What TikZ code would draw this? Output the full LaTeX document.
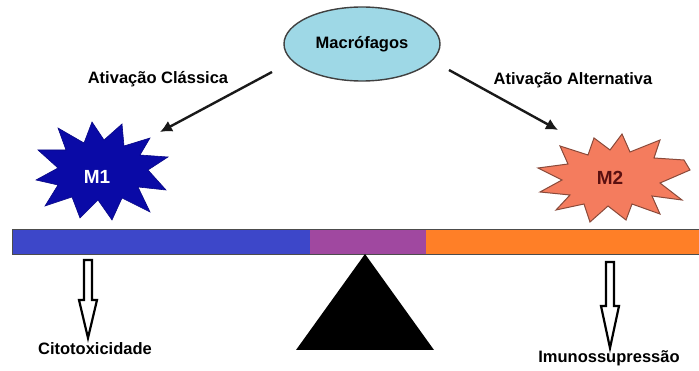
\documentclass[tikz,border=0pt]{standalone}
\usepackage{fontspec}
\setmainfont{Liberation Sans}
\usetikzlibrary{shapes.geometric,arrows.meta}
\definecolor{macfill}{HTML}{9ED8E6}
\definecolor{mone}{HTML}{0A0AA6}
\definecolor{mtwo}{HTML}{F47C5E}
\definecolor{mtwoline}{HTML}{8A4A3A}
\definecolor{barblue}{HTML}{3D47C9}
\definecolor{barpurple}{HTML}{A048A0}
\definecolor{barorange}{HTML}{FF7F27}
\definecolor{mtwotext}{HTML}{5A1010}
\tikzset{
  lbl/.style={font=\fontsize{16.5}{19}\selectfont\bfseries, inner sep=0pt},
  mlbl/.style={font=\fontsize{19}{22}\selectfont\bfseries, inner sep=0pt},
  actarrow/.style={draw=black!90, line width=2.4pt, -{Latex[length=12pt,width=12pt]}},
  hollowarrow/.style={draw=black, line width=2.2pt, fill=white, line join=miter},
}
\begin{document}
\begin{tikzpicture}[x=1pt,y=-1pt]
\useasboundingbox (0,0) rectangle (699,371);

% macrophage ellipse
\node[ellipse, draw=black!75, line width=1.4pt, fill=macfill,
      minimum width=156pt, minimum height=74pt, lbl] (mac) at (362,44) {Macrófagos};

% activation labels
\node[lbl] (lcl) at (158,79) {Ativação Clássica};
\node[lbl] (lalt) at (573,80) {Ativação Alternativa};

% M1 star (irregular burst)
\draw[fill=mone, draw=mone!80!black, line width=0.6pt]
  plot[smooth cycle, tension=0] coordinates {
   (168,157) (148,170) (166,190) (138,187) (150,212) (122,198) (112,220)
   (98,200) (80,218) (72,197) (45,206) (58,185) (36,180) (58,168)
   (38,150) (66,150) (58,128) (84,143) (92,122) (104,140) (122,124)
   (124,146) (150,138) (140,155)};
\node[mlbl, text=white] (m1) at (97,177) {M1};

% M2 star (irregular burst)
\draw[fill=mtwo, draw=mtwoline, line width=1pt]
  plot[smooth cycle, tension=0] coordinates {
   (690,170) (660,183) (682,200) (652,196) (660,214) (632,204) (626,220)
   (608,206) (590,222) (584,204) (556,210) (570,195) (540,192) (562,180)
   (538,168) (568,164) (560,146) (588,155) (594,138) (610,150) (622,134)
   (630,152) (660,140) (654,158) (684,160)};
\node[mlbl, text=mtwotext] (m2) at (610,178) {M2};

% activation arrows
\coordinate (a1s) at (272,72);
\coordinate (a1e) at (160,132);
\coordinate (a2s) at (449,70);
\coordinate (a2e) at (558,130);
\draw[actarrow] (a1s) -- (a1e);
\draw[actarrow] (a2s) -- (a2e);

% balance beam
\fill[barblue] (12,230) rectangle (312,255);
\fill[barpurple] (310,230) rectangle (428,255);
\fill[barorange] (426,230) rectangle (699,255);
\draw[black!70, line width=1pt] (12,230) -- (699,230);
\draw[black!70, line width=1pt] (12,255) -- (699,255);
\draw[black!70, line width=1pt] (12,230) -- (12,255);

% fulcrum
\fill[black] (365,254) -- (434,350) -- (296,350) -- cycle;

% outcome arrows
\draw[hollowarrow] (84,260) -- (92,260) -- (92,300) -- (97,300) -- (88,338)
  -- (79,300) -- (84,300) -- cycle;
\draw[hollowarrow] (606,262) -- (614,262) -- (614,306) -- (619,306) -- (610,348)
  -- (601,306) -- (606,306) -- cycle;

% outcome labels
\node[lbl] (cito) at (95,349) {Citotoxicidade};
\node[lbl] (imuno) at (609,358) {Imunossupressão};
\end{tikzpicture}
\end{document}
